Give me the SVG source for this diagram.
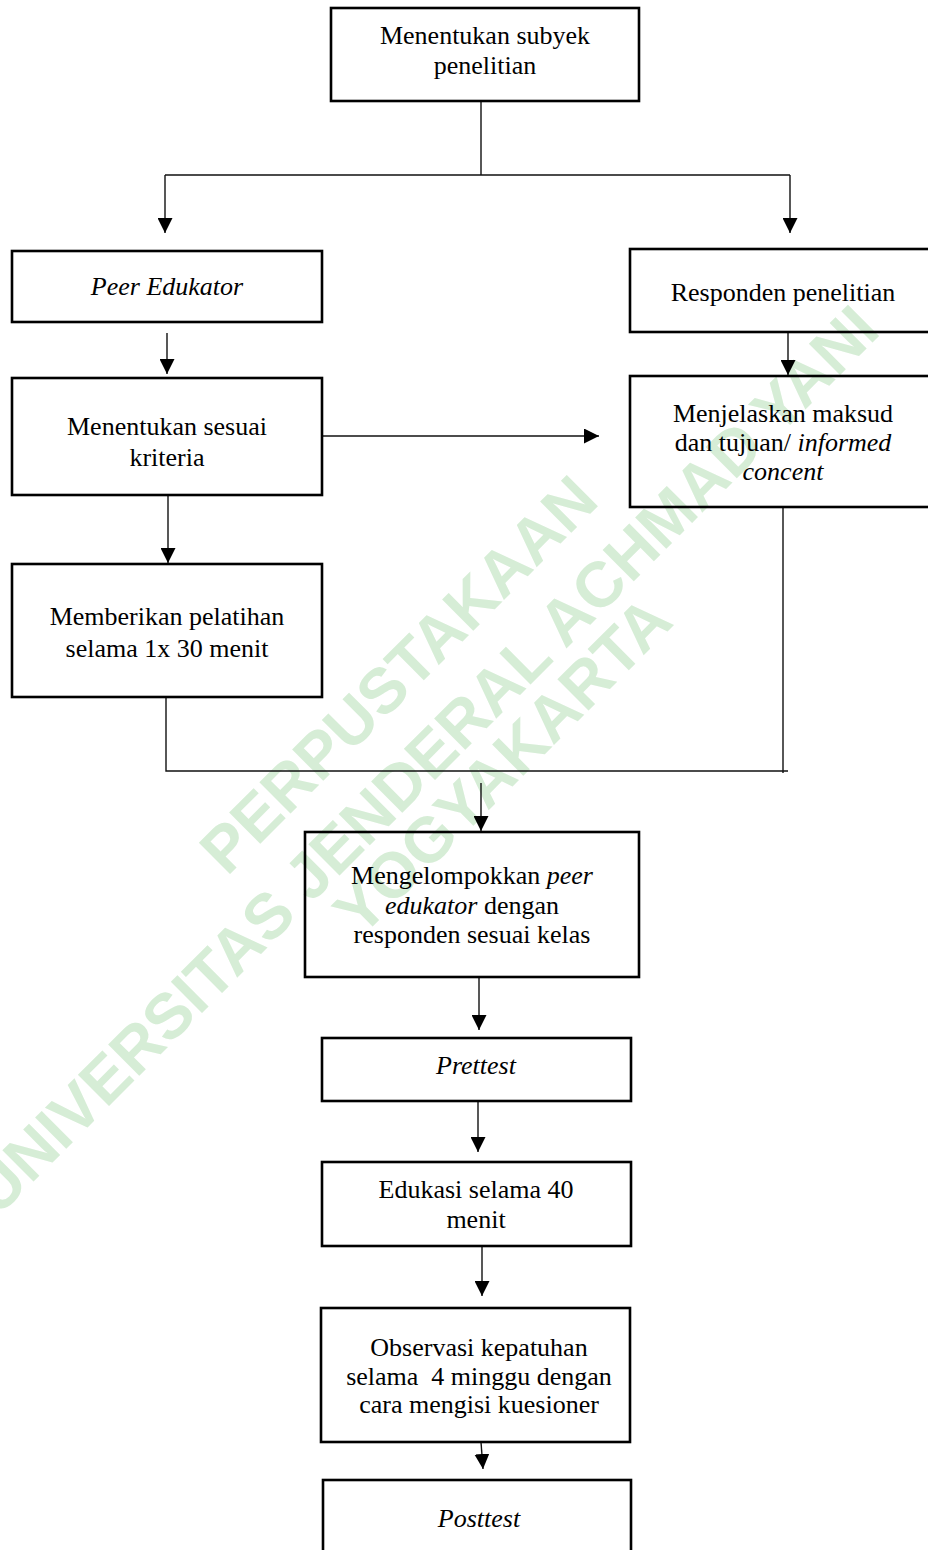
<svg xmlns="http://www.w3.org/2000/svg" width="928" height="1550" viewBox="0 0 928 1550">
<style>
.bg{fill:#ffffff}
.box{fill:none;stroke:#000;stroke-width:2.6}
.ln{fill:none;stroke:#111;stroke-width:1.4}
.t{font-family:"Liberation Serif","Times New Roman",serif;font-size:26px;fill:#000;text-anchor:middle;white-space:pre}
.i{font-style:italic}
.wm{font-family:"Liberation Sans",Arial,sans-serif;font-weight:bold;font-size:64px;fill:#d6edd6;text-anchor:middle}
</style>
<defs>
<marker id="ah" markerUnits="userSpaceOnUse" markerWidth="15" markerHeight="15" refX="15" refY="7.5" orient="auto">
<path d="M0,0 L15,7.5 L0,15 z" fill="#000"/>
</marker>
</defs>
<rect class="bg" x="0" y="0" width="928" height="1550"/>
<g id="watermark">
<text class="wm" transform="translate(414,690) rotate(-45)">PERPUSTAKAAN</text>
<text class="wm" transform="translate(440,775) rotate(-45)">UNIVERSITAS JENDERAL ACHMAD YANI</text>
<text class="wm" transform="translate(518,781) rotate(-45)">YOGYAKARTA</text>
</g>
<g id="connectors">
<path class="ln" d="M481,101 V175 M165,175 H790"/>
<path class="ln" d="M165,175 V233" marker-end="url(#ah)"/>
<path class="ln" d="M790,175 V233" marker-end="url(#ah)"/>
<path class="ln" d="M167,333 V374" marker-end="url(#ah)"/>
<path class="ln" d="M322,436 H599" marker-end="url(#ah)"/>
<path class="ln" d="M788,332 V375" marker-end="url(#ah)"/>
<path class="ln" d="M168,495 V563" marker-end="url(#ah)"/>
<path class="ln" d="M166,697 V771 H788 M783,507 V773"/>
<path class="ln" d="M481,783 V831" marker-end="url(#ah)"/>
<path class="ln" d="M479,977 V1030" marker-end="url(#ah)"/>
<path class="ln" d="M478,1101 V1152" marker-end="url(#ah)"/>
<path class="ln" d="M482,1246 V1296" marker-end="url(#ah)"/>
<path class="ln" d="M481,1442 L483,1469" marker-end="url(#ah)"/>
</g>
<g id="n-subyek">
<rect class="box" x="331" y="8" width="308" height="93"/>
<text class="t" x="485" y="44">Menentukan subyek</text>
<text class="t" x="485" y="74">penelitian</text>
</g>
<g id="n-peer">
<rect class="box" x="12" y="251" width="310" height="71"/>
<text class="t i" x="167" y="295">Peer Edukator</text>
</g>
<g id="n-kriteria">
<rect class="box" x="12" y="378" width="310" height="117"/>
<text class="t" x="167" y="435">Menentukan sesuai</text>
<text class="t" x="167" y="466">kriteria</text>
</g>
<g id="n-pelatihan">
<rect class="box" x="12" y="564" width="310" height="133"/>
<text class="t" x="167" y="625">Memberikan pelatihan</text>
<text class="t" x="167" y="657">selama 1x 30 menit</text>
</g>
<g id="n-responden">
<rect class="box" x="630" y="249" width="310" height="83"/>
<text class="t" x="783" y="301">Responden penelitian</text>
</g>
<g id="n-menjelaskan">
<rect class="box" x="630" y="376" width="310" height="131"/>
<text class="t" x="783" y="422">Menjelaskan maksud</text>
<text class="t" x="783" y="451">dan tujuan/ <tspan class="i">informed</tspan></text>
<text class="t i" x="783" y="480">concent</text>
</g>
<g id="n-mengelompokkan">
<rect class="box" x="305" y="832" width="334" height="145"/>
<text class="t" x="472" y="884">Mengelompokkan <tspan class="i">peer</tspan></text>
<text class="t" x="472" y="914"><tspan class="i">edukator</tspan> dengan</text>
<text class="t" x="472" y="943">responden sesuai kelas</text>
</g>
<g id="n-prettest">
<rect class="box" x="322" y="1038" width="309" height="63"/>
<text class="t i" x="476" y="1074">Prettest</text>
</g>
<g id="n-edukasi">
<rect class="box" x="322" y="1162" width="309" height="84"/>
<text class="t" x="476" y="1198">Edukasi selama 40</text>
<text class="t" x="476" y="1228">menit</text>
</g>
<g id="n-observasi">
<rect class="box" x="321" y="1308" width="309" height="134"/>
<text class="t" x="479" y="1356">Observasi kepatuhan</text>
<text class="t" x="479" y="1385">selama  4 minggu dengan</text>
<text class="t" x="479" y="1413">cara mengisi kuesioner</text>
</g>
<g id="n-posttest">
<rect class="box" x="323" y="1480" width="308" height="90"/>
<text class="t i" x="479" y="1527">Posttest</text>
</g>
</svg>
